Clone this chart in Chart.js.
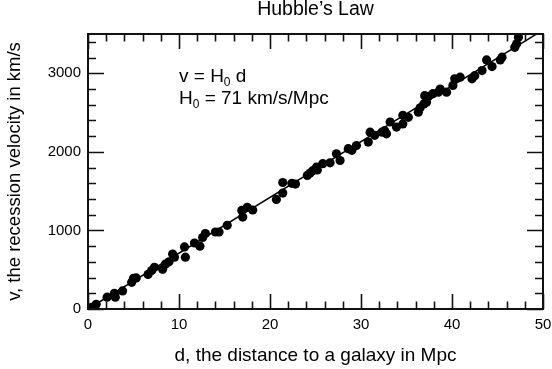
<!DOCTYPE html>
<html><head><meta charset="utf-8">
<script src="https://cdn.jsdelivr.net/npm/chart.js@4"></script>
<style>html,body{margin:0;padding:0;background:#fff}</style>
</head><body>
<canvas id="c" width="552" height="369"></canvas>
<script>
// ---- data ----
const distances = [0.4, 0.9, 2.1, 2.9, 3.0, 3.8, 4.8, 5.0, 5.3, 6.6, 7.0, 7.3, 8.2, 8.5, 8.9, 9.3, 9.5,
  10.6, 10.7, 11.7, 12.3, 12.6, 12.9, 14.0, 14.4, 15.3, 16.9, 17.0, 17.5, 18.1, 20.7, 21.4, 21.4,
  22.4, 22.8, 24.1, 24.4, 24.7, 25.2, 25.1, 25.8, 26.6, 27.3, 27.7, 28.6, 29.0, 29.5, 30.8, 31.0,
  31.5, 32.3, 32.6, 32.8, 33.2, 33.9, 34.6, 34.6, 35.2, 36.3, 36.5, 36.9, 37.0, 37.2, 37.4, 37.9,
  38.5, 38.7, 39.4, 40.1, 40.3, 40.9, 42.2, 42.5, 43.3, 43.8, 44.4, 45.3, 45.5, 46.9, 47.1, 47.3];
const velocities = [20, 60, 150, 200, 150, 230, 340, 390, 395, 440, 490, 530, 505, 570, 600, 700, 660,
  790, 660, 840, 800, 910, 960, 980, 980, 1065, 1255, 1170, 1295, 1260, 1395, 1475, 1610,
  1600, 1590, 1700, 1730, 1760, 1770, 1805, 1850, 1860, 1975, 1890, 2040, 2020, 2080, 2125, 2250,
  2210, 2250, 2270, 2230, 2380, 2315, 2355, 2465, 2440, 2505, 2560, 2610, 2715, 2630, 2705, 2740,
  2760, 2800, 2760, 2845, 2930, 2950, 2930, 2970, 3035, 3170, 3085, 3170, 3205, 3330, 3375, 3460];
const fitDistances = [0, 50];
const fitVelocities = [0, 3550];
const xTickLabels = [0, 10, 20, 30, 40, 50];
const yTickLabels = [0, 1000, 2000, 3000];
const chartTitle = 'Hubble’s Law';
const xAxisTitle = 'd, the distance to a galaxy in Mpc';
const yAxisTitle = 'v, the recession velocity in km/s';
const annotationLines = [
  {main: 'v = H', sub: '0', rest: ' d', at: [10, 2895]},
  {main: 'H', sub: '0', rest: ' = 71 km/s/Mpc', at: [10, 2610]}
];

const F = "'Liberation Sans', Arial, Helvetica, sans-serif";

const frameTicks = {
  id: 'frameTicks',
  afterDatasetsDraw(chart) {
    const {ctx, chartArea: a, scales: {x, y}} = chart;
    ctx.save();
    ctx.strokeStyle = '#111';
    ctx.lineWidth = 1.6;
    ctx.beginPath();
    for (let i = 0; i <= 25; i++) {
      const v = i * 2;
      const px = Math.round(x.getPixelForValue(v)) + 0.5;
      const len = (i % 5 === 0) ? 15 : 7.5;
      ctx.moveTo(px, a.bottom); ctx.lineTo(px, a.bottom - len);
      ctx.moveTo(px, a.top); ctx.lineTo(px, a.top + len);
    }
    for (let i = 0; i <= 17; i++) {
      const v = i * 200;
      const py = Math.round(y.getPixelForValue(v)) + 0.5;
      const len = (i % 5 === 0) ? 16 : 8;
      ctx.moveTo(a.left, py); ctx.lineTo(a.left + len, py);
      ctx.moveTo(a.right, py); ctx.lineTo(a.right - len, py);
    }
    ctx.stroke();
    ctx.lineWidth = 2;
    ctx.strokeRect(a.left, a.top, a.right - a.left, a.bottom - a.top);
    // annotation text
    ctx.fillStyle = '#000';
    ctx.textBaseline = 'alphabetic';
    ctx.textAlign = 'left';
    annotationLines.forEach(l => {
      let px = x.getPixelForValue(l.at[0]);
      const py = y.getPixelForValue(l.at[1]);
      ctx.font = '19px ' + F;
      ctx.fillText(l.main, px, py);
      px += ctx.measureText(l.main).width;
      ctx.font = '12px ' + F;
      ctx.fillText(l.sub, px, py + 4.5);
      px += ctx.measureText(l.sub).width;
      ctx.font = '19px ' + F;
      ctx.fillText(l.rest, px, py);
    });
    ctx.restore();
  }
};

new Chart(document.getElementById('c'), {
  type: 'scatter',
  data: {
    datasets: [
      {
        data: distances.map((d, i) => ({x: d, y: velocities[i]})),
        pointRadius: 4.6, pointHoverRadius: 4.6,
        backgroundColor: '#000', borderWidth: 0, clip: 0
      },
      {
        type: 'line',
        data: fitDistances.map((d, i) => ({x: d, y: fitVelocities[i]})),
        borderColor: '#000', borderWidth: 1.5, pointRadius: 0, fill: false, clip: 0
      }
    ]
  },
  options: {
    responsive: false,
    animation: false,
    devicePixelRatio: 1,
    layout: {padding: {left: 0, right: 9, top: 0, bottom: 0}},
    plugins: {
      legend: {display: false},
      tooltip: {enabled: false},
      title: {
        display: true, text: chartTitle, color: '#000', fullSize: false,
        font: {family: F, size: 19.5, weight: 'normal', lineHeight: 1},
        padding: {top: 0, bottom: 14.5}
      }
    },
    scales: {
      x: {
        type: 'linear', min: 0, max: 50,
        grid: {display: false, drawTicks: false},
        border: {display: false},
        afterBuildTicks: s => { s.ticks = xTickLabels.map(v => ({value: v})); },
        afterFit: s => { s.height = 60; s.paddingLeft = 0; s.paddingRight = 0; },
        ticks: {color: '#000', font: {family: F, size: 15}, padding: 7, maxRotation: 0, autoSkip: false,
                callback: v => String(v)},
        title: {display: true, text: xAxisTitle, color: '#000', font: {family: F, size: 19}, padding: {top: 4, bottom: 2}}
      },
      y: {
        type: 'linear', min: 0, max: 3500,
        grid: {display: false, drawTicks: false},
        border: {display: false},
        afterBuildTicks: s => { s.ticks = yTickLabels.map(v => ({value: v})); },
        afterFit: s => { s.width = 88; s.paddingTop = 0; s.paddingBottom = 0; },
        ticks: {color: '#000', font: {family: F, size: 15}, padding: 7, autoSkip: false,
                callback: v => String(v)},
        title: {display: true, text: yAxisTitle, color: '#000', font: {family: F, size: 18.5}, padding: {top: 4, bottom: 4}}
      }
    }
  },
  plugins: [frameTicks]
});
</script>
</body></html>
